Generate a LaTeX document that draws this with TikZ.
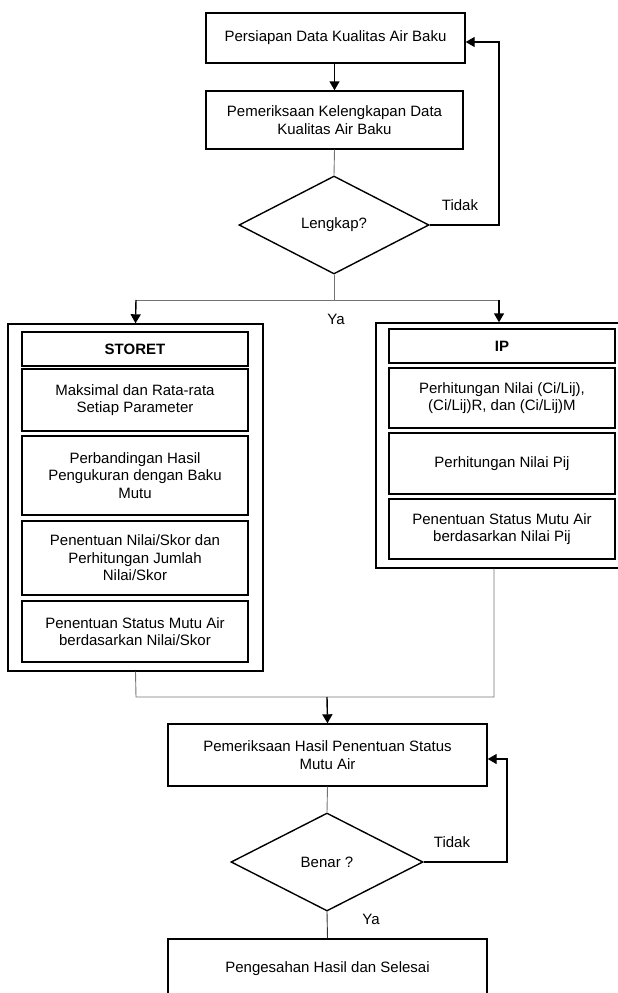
\documentclass[tikz,border=0pt]{standalone}
\usepackage{fontspec}
\setmainfont{Liberation Sans}
\usetikzlibrary{shapes.geometric,arrows.meta}
\begin{document}
\begin{tikzpicture}[x=1pt,y=-1pt,
  box/.style={draw=black, line width=1.4pt, inner sep=2pt, align=center,
    font=\fontsize{15}{17.5}\selectfont},
  frame/.style={draw=black, line width=1.4pt, inner sep=0pt},
  dia/.style={draw=black, line width=1.4pt, shape=diamond, inner sep=0pt,
    font=\fontsize{15}{17.5}\selectfont},
  lbl/.style={font=\fontsize{15}{17.5}\selectfont, inner sep=1pt},
  conn/.style={draw=black!55, line width=0.9pt},
  arr/.style={draw=black, line width=1.4pt, -{Triangle[length=9pt,width=10pt]}},
  loopl/.style={draw=black, line width=1.4pt, -{Triangle[length=9pt,width=10pt]}}
]
\useasboundingbox (0,0) rectangle (618,993);

% top part
\node[box, minimum width=259pt, minimum height=50pt] (b1) at (335.5,38) {Persiapan Data Kualitas Air Baku};
\node[box, minimum width=257pt, minimum height=58pt] (b2) at (334.5,120) {Pemeriksaan Kelengkapan Data\\Kualitas Air Baku};
\node[dia, minimum width=190pt, minimum height=98pt] (d1) at (334,225) {Lengkap?};
\coordinate (lp1) at (499,42);
\coordinate (br) at (334,300);
\coordinate (brl) at (136,300);
\coordinate (brr) at (499,300);

\draw[arr] (b1.south -| b2.north) -- (b2.north);
\draw[conn] (b2.south) -- (d1.north);
\draw[loopl] (d1.east) -| (lp1) -- (lp1 -| b1.east);
\node[lbl] (t1) at (460,205) {Tidak};

% left frame
\node[frame, minimum width=255pt, minimum height=347pt] (L) at (135.5,497.5) {};
\node[box, minimum width=226pt, minimum height=34pt, font=\fontsize{15}{17.5}\selectfont\bfseries] (s0) at (135,349) {STORET};
\node[box, minimum width=226pt, minimum height=62pt] (s1) at (135,400) {Maksimal dan Rata-rata\\Setiap Parameter};
\node[box, minimum width=226pt, minimum height=79pt] (s2) at (135,475.5) {Perbandingan Hasil\\Pengukuran dengan Baku\\Mutu};
\node[box, minimum width=226pt, minimum height=74pt] (s3) at (135,558) {Penentuan Nilai/Skor dan\\Perhitungan Jumlah\\Nilai/Skor};
\node[box, minimum width=226pt, minimum height=61pt] (s4) at (135,631.5) {Penentuan Status Mutu Air\\berdasarkan Nilai/Skor};

% right frame
\node[frame, minimum width=246pt, minimum height=245pt] (R) at (499,445.5) {};
\node[box, minimum width=226pt, minimum height=34pt, font=\fontsize{15}{17.5}\selectfont\bfseries] (p0) at (502,346) {IP};
\node[box, minimum width=226pt, minimum height=60pt] (p1) at (502,398) {Perhitungan Nilai (Ci/Lij),\\(Ci/Lij)R, dan (Ci/Lij)M};
\node[box, minimum width=226pt, minimum height=61pt] (p2) at (502,463.5) {Perhitungan Nilai Pij};
\node[box, minimum width=226pt, minimum height=60pt] (p3) at (502,529) {Penentuan Status Mutu Air\\berdasarkan Nilai Pij};

% branch
\draw[conn] (d1.south) -- (br);
\draw[conn] (brl) -- (brr);
\draw[arr] (brl) -- (L.north);
\draw[arr] (brr) -- (R.north);
\node[lbl] (y1) at (336,319) {Ya};

% merge
\coordinate (ml) at (136,697);
\coordinate (mr) at (494,697);
\coordinate (mc) at (327,697);
\draw[conn] (L.south) -- (ml) -- (mr) -- (mr |- R.south);

% bottom part
\node[box, minimum width=319pt, minimum height=62pt] (b3) at (327.5,755) {Pemeriksaan Hasil Penentuan Status\\Mutu Air};
\node[dia, minimum width=192pt, minimum height=98pt] (d2) at (327,862) {Benar ?};
\node[box, minimum width=319pt, minimum height=60pt] (b4) at (327.5,969) {Pengesahan Hasil dan Selesai};
\coordinate (lp2) at (507,759);

\draw[arr] (mc) -- (b3.north);
\draw[conn] (b3.south) -- (d2.north);
\draw[loopl] (d2.east) -| (lp2) -- (lp2 -| b3.east);
\node[lbl] (t2) at (452,842) {Tidak};
\draw[draw=black!80, line width=0.9pt] (d2.south) -- (b4.north);
\node[lbl] (y2) at (371,919) {Ya};
\end{tikzpicture}
\end{document}
